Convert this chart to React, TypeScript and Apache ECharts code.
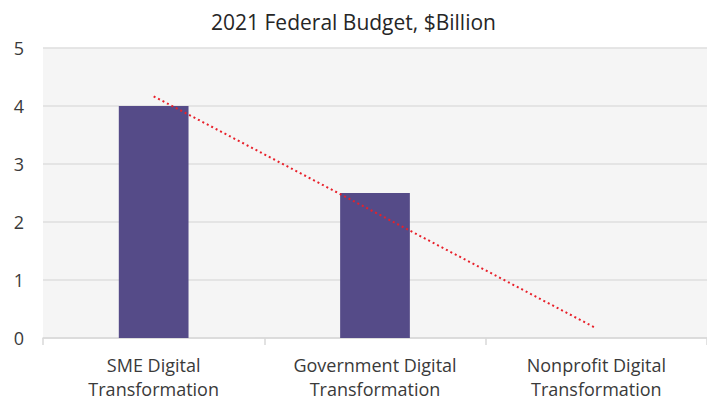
import React, { useEffect, useRef } from "react";
import * as echarts from "echarts";

const categories = ["SME Digital\nTransformation", "Government Digital\nTransformation", "Nonprofit Digital\nTransformation"];
const budgetValues = [4, 2.5, 0];
const yTicks = [0, 1, 2, 3, 4, 5];

function linearTrend(vals: number[]): number[] {
  const n = vals.length;
  const xm = (n - 1) / 2;
  const ym = vals.reduce((a, b) => a + b, 0) / n;
  let sxy = 0, sxx = 0;
  vals.forEach((v, i) => { sxy += (i - xm) * (v - ym); sxx += (i - xm) * (i - xm); });
  const slope = sxy / sxx;
  return vals.map((_, i) => ym + slope * (i - xm));
}

export default function App() {
  const ref = useRef<HTMLDivElement>(null);
  useEffect(() => {
    if (!ref.current) return;
    const chart = echarts.init(ref.current, null, { renderer: "svg" });
    const font = "'Open Sans', 'Noto Sans', sans-serif";
    chart.setOption({
      animation: false,
      backgroundColor: "#ffffff",
      title: {
        text: "2021 Federal Budget, $Billion",
        left: "center",
        top: 6,
        textStyle: { fontFamily: font, fontSize: 21, fontWeight: "normal", color: "#262626" },
      },
      grid: {
        left: 43, right: 0, top: 48, bottom: 60,
        show: true, backgroundColor: "#f5f5f5", borderWidth: 0,
      },
      xAxis: {
        type: "category",
        data: categories,
        axisLine: { lineStyle: { color: "#d9d9d9", width: 1.5 } },
        axisTick: { show: true, length: 7, lineStyle: { color: "#d9d9d9", width: 1.5 } },
        axisLabel: { fontFamily: font, fontSize: 18, color: "#3a3a3a", lineHeight: 24, margin: 15 },
      },
      yAxis: {
        type: "value",
        min: yTicks[0],
        max: yTicks[yTicks.length - 1],
        interval: 1,
        axisLine: { show: false },
        axisTick: { show: false },
        axisLabel: { fontFamily: font, fontSize: 18, color: "#3a3a3a", margin: 19 },
        splitLine: { lineStyle: { color: "#dedede", width: 1.5 } },
      },
      series: [
        {
          type: "bar",
          data: budgetValues,
          barWidth: "31.5%",
          itemStyle: { color: "#554b88" },
        },
        {
          type: "line",
          data: linearTrend(budgetValues),
          symbol: "none",
          lineStyle: { color: "#e8202a", width: 2, type: [2, 3] },
          z: 5,
        },
      ],
    });
    return () => chart.dispose();
  }, []);
  return <div ref={ref} style={{ position: "absolute", left: 0, top: 0, width: 707, height: 401 }} />;
}
